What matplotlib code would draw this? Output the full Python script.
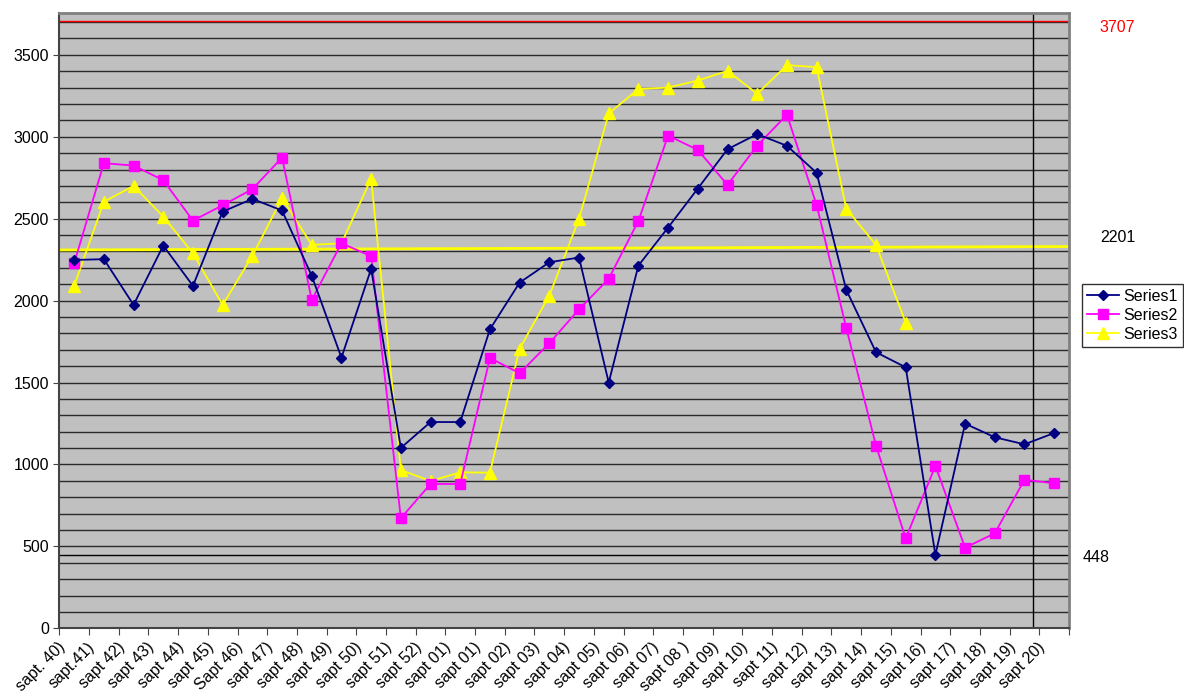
import numpy as np
import matplotlib
matplotlib.use('Agg')
import matplotlib.pyplot as plt
import matplotlib.transforms as mtrans

plt.rcParams['font.family'] = ['Liberation Sans', 'DejaVu Sans']

# week labels
weeks = ['sapt. 40)', 'sapt.41)', 'sapt 42)', 'sapt 43)', 'sapt 44)', 'sapt 45)', 'Sapt 46)',
         'sapt 47)', 'sapt 48)', 'sapt 49)', 'sapt 50)', 'sapt 51)', 'sapt 52)', 'sapt 01)',
         'sapt 01)', 'sapt 02)', 'sapt 03)', 'sapt 04)', 'sapt 05)', 'sapt 06)', 'sapt 07)',
         'sapt 08 )', 'sapt 09)', 'sapt 10)', 'sapt 11)', 'sapt 12)', 'sapt 13)', 'sapt 14)',
         'sapt 15)', 'sapt 16)', 'sapt 17)', 'sapt 18)', 'sapt 19)', 'sapt 20)']

series1 = [2248, 2253, 1974, 2336, 2090, 2543, 2621, 2550, 2151, 1652, 2194,
           1101, 1259, 1259, 1825, 2110, 2234, 2263, 1500, 2214, 2446, 2684,
           2924, 3016, 2945, 2780, 2065, 1685, 1593, 448, 1249, 1166, 1123, 1192]
series2 = [2228, 2839, 2824, 2735, 2488, 2582, 2680, 2873, 2004, 2350, 2271,
           672, 881, 881, 1650, 1557, 1740, 1947, 2133, 2487, 3007, 2920,
           2706, 2946, 3134, 2584, 1832, 1115, 549, 991, 492, 580, 907, 885]
series3 = [2090, 2603, 2700, 2513, 2289, 1974, 2273, 2625, 2340, 2350, 2743,
           966, 899, 952, 950, 1707, 2031, 2499, 3142, 3291, 3300, 3343,
           3402, 3262, 3437, 3425, 2560, 2340, 1866]

max_val = 3707
avg_label = 2201
avg_line = [2309, 2330]   # where the yellow line is drawn (start, end)
min_val = 448
marker_week = 32.27       # vertical marker between sapt 19) and sapt 20)

fig = plt.figure(figsize=(11.84, 6.99), dpi=100)
ax = fig.add_axes([0.0501, 0.1011, 0.8528, 0.880])
ax.set_facecolor('#C0C0C0')

x = np.arange(len(weeks))
n = len(weeks)

# horizontal gridlines every 100
for g in range(100, 3800, 100):
    ax.axhline(g, color='#2a2a2a', lw=1.0, zorder=1)

# reference lines
ax.axhline(max_val, color='#FF0000', lw=1.0, zorder=2)
ax.plot([-0.5, n - 0.5], avg_line, color='#FFFF00', lw=2.0, zorder=2)
ax.axhline(min_val, color='#000000', lw=1.0, zorder=2)
ax.axvline(marker_week, color='#000000', lw=1.0, zorder=2)

ax.plot(x, series1, color='#000080', lw=1.3, marker='D', ms=5.5, label='Series1', zorder=5)
ax.plot(x, series2, color='#FF00FF', lw=1.3, marker='s', ms=7, label='Series2', zorder=4)
ax.plot(x[:len(series3)], series3, color='#FFFF00', lw=1.3, marker='^', ms=8, label='Series3', zorder=3)

ax.set_xlim(-0.5, n - 0.5)
ax.set_ylim(0, 3754)
ax.set_yticks(range(0, 4000, 500))
ax.tick_params(axis='y', labelsize=11.5, length=4, direction='out', color='#444444')

# category ticks between points, labels at points
ax.set_xticks(np.arange(-0.5, n, 1.0))
ax.set_xticklabels([])
ax.set_xticks(x, minor=True)
ax.set_xticklabels(weeks, minor=True, rotation=45, ha='right', fontsize=11.5)
ax.tick_params(axis='x', which='minor', length=0, pad=8)
ax.tick_params(axis='x', which='major', length=5, direction='out', color='#444444')
shift = mtrans.ScaledTranslation(-6 / 100, 0, fig.dpi_scale_trans)
for lbl in ax.get_xticklabels(minor=True):
    lbl.set_transform(lbl.get_transform() + shift)

for side in ['left', 'bottom']:
    ax.spines[side].set_color('#444444')
    ax.spines[side].set_linewidth(1.5)
for side in ['top', 'right']:
    ax.spines[side].set_color('#808080')
    ax.spines[side].set_linewidth(2)

fig.text(1099 / 1184, 1 - 27 / 699, str(max_val), color='#FF0000', fontsize=11.5, va='center')
fig.text(1100 / 1184, 1 - 238 / 699, str(avg_label), color='#000000', fontsize=11.5, va='center')
fig.text(1083 / 1184, 1 - 557 / 699, str(min_val), color='#000000', fontsize=11.5, va='center')

leg = ax.legend(loc='upper left', bbox_to_anchor=(1082 / 1184, 1 - 284 / 699),
                bbox_transform=fig.transFigure, fontsize=11.5, frameon=True, fancybox=False,
                borderpad=0.3, labelspacing=0.25, handlelength=2.0, handletextpad=0.3,
                borderaxespad=0)
leg.get_frame().set_edgecolor('#000000')
leg.get_frame().set_linewidth(1.0)

fig.savefig('out.png', dpi=100)
